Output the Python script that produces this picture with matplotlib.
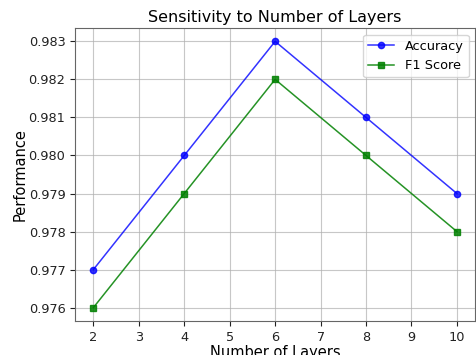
import matplotlib
matplotlib.use("Agg")
import matplotlib.pyplot as plt

layers = [2, 4, 6, 8, 10]
accuracy = [0.977, 0.980, 0.983, 0.981, 0.979]
f1_score = [0.976, 0.979, 0.982, 0.980, 0.978]

fig = plt.figure(figsize=(4.76, 3.55), dpi=100)
ax = fig.add_axes([0.158, 0.096, 0.840, 0.825])

ax.plot(layers, accuracy, marker='o', color='blue', alpha=0.8, markersize=4.5, linewidth=1.1, label='Accuracy')
ax.plot(layers, f1_score, marker='s', color='green', alpha=0.85, markersize=4.5, linewidth=1.1, label='F1 Score')

ax.set_title('Sensitivity to Number of Layers', fontsize=11.5, pad=4)
ax.set_xlabel('Number of Layers', fontsize=10.5, labelpad=1)
ax.set_ylabel('Performance', fontsize=10.5, labelpad=1)
ax.tick_params(labelsize=9.3, colors='#222222')
for s in ax.spines.values():
    s.set_color('#666666')
ax.grid(True, color='#b0b0b0', alpha=0.7)
ax.legend(fontsize=9.3)

fig.savefig('out.png', dpi=100)
